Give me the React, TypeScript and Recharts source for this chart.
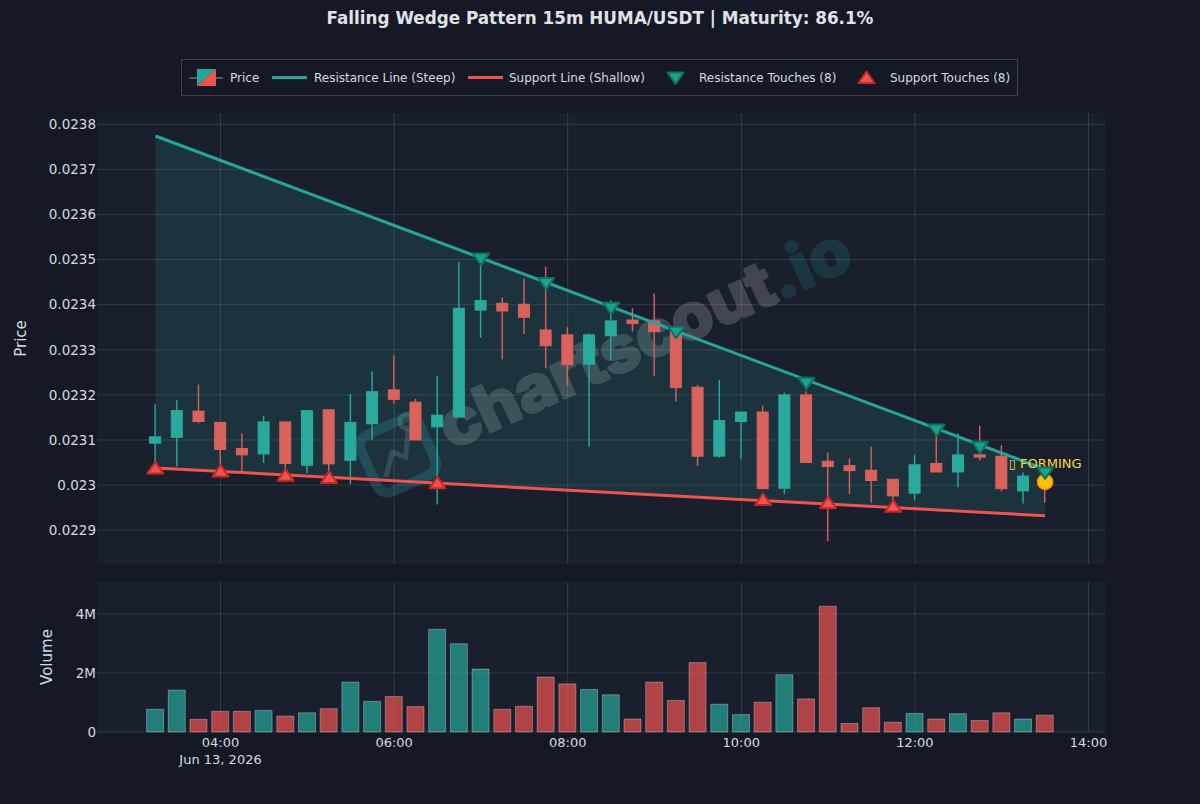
import { Area, Bar, CartesianGrid, Cell, ComposedChart, Line, Scatter, XAxis, YAxis } from 'recharts';

const candleTimes = [
  '03:15', '03:30', '03:45', '04:00', '04:15', '04:30', '04:45', '05:00', '05:15', '05:30', '05:45', '06:00', '06:15', '06:30',
  '06:45', '07:00', '07:15', '07:30', '07:45', '08:00', '08:15', '08:30', '08:45', '09:00', '09:15', '09:30', '09:45', '10:00',
  '10:15', '10:30', '10:45', '11:00', '11:15', '11:30', '11:45', '12:00', '12:15', '12:30', '12:45', '13:00', '13:15', '13:30',
];
const opens = [
  0.023093, 0.023106, 0.023164, 0.023139, 0.023081, 0.023069, 0.02314, 0.023044, 0.023167, 0.023055, 0.023136, 0.023211, 0.023184, 0.023129,
  0.023151, 0.023388, 0.023403, 0.023401, 0.023344, 0.023333, 0.023268, 0.023331, 0.023366, 0.023364, 0.02334, 0.023217, 0.023064, 0.023141,
  0.023162, 0.022993, 0.0232, 0.023053, 0.023043, 0.023033, 0.023013, 0.022982, 0.023048, 0.023029, 0.023067, 0.023064, 0.022987, 0.023016,
];
const closes = [
  0.023107, 0.023165, 0.023141, 0.023079, 0.023067, 0.02314, 0.023048, 0.023165, 0.023047, 0.023139, 0.023207, 0.02319, 0.0231, 0.023155,
  0.023392, 0.023409, 0.023386, 0.023372, 0.023309, 0.023267, 0.023333, 0.023364, 0.023358, 0.02334, 0.023216, 0.023064, 0.023143, 0.023162,
  0.022992, 0.0232, 0.02305, 0.023041, 0.023032, 0.02301, 0.022976, 0.023045, 0.023029, 0.023067, 0.023062, 0.022992, 0.02302, 0.022998,
];
const highs = [
  0.023179, 0.023188, 0.023223, 0.023139, 0.023115, 0.023154, 0.02314, 0.023165, 0.023167, 0.023202, 0.023252, 0.023288, 0.023191, 0.023242,
  0.023494, 0.023503, 0.023416, 0.023458, 0.023484, 0.02335, 0.023336, 0.023409, 0.023392, 0.023425, 0.023345, 0.023222, 0.023233, 0.023162,
  0.023176, 0.023205, 0.023208, 0.023072, 0.023059, 0.023085, 0.023013, 0.023067, 0.023122, 0.023115, 0.023132, 0.023088, 0.023028, 0.023024,
];
const lows = [
  0.02304, 0.023041, 0.023137, 0.023033, 0.023029, 0.023049, 0.023007, 0.023027, 0.023022, 0.023002, 0.0231, 0.023181, 0.0231, 0.022957,
  0.023151, 0.023327, 0.023279, 0.023335, 0.023259, 0.023221, 0.023085, 0.023277, 0.023341, 0.023242, 0.023186, 0.023043, 0.023061, 0.023057,
  0.022992, 0.02298, 0.02305, 0.022876, 0.02298, 0.022961, 0.02296, 0.022967, 0.023029, 0.022995, 0.023055, 0.022986, 0.022959, 0.022961,
];
const volumes = [
  0.77, 1.42, 0.43, 0.7, 0.7, 0.73, 0.54, 0.65, 0.79, 1.69, 1.04, 1.2, 0.86, 3.48,
  2.99, 2.13, 0.77, 0.87, 1.86, 1.63, 1.44, 1.26, 0.44, 1.69, 1.07, 2.35, 0.94, 0.59,
  1.01, 1.94, 1.12, 4.26, 0.29, 0.82, 0.33, 0.63, 0.44, 0.62, 0.39, 0.65, 0.44, 0.57,
];

const resistanceEnds = [0.023774, 0.023035];
const supportEnds = [0.023038, 0.022932];
const resistanceTouchTimes = ['07:00', '07:45', '08:30', '09:15', '10:45', '12:15', '12:45', '13:30'];
const resistanceTouchPrices = [0.023501, 0.023447, 0.023392, 0.023339, 0.023226, 0.023122, 0.023084, 0.023027];
const supportTouchTimes = ['03:15', '04:00', '04:45', '05:15', '06:30', '10:15', '11:00', '11:45'];
const supportTouchPrices = [0.023038, 0.023031, 0.023022, 0.023017, 0.023005, 0.022968, 0.022961, 0.022953];
const formingTime = '13:30';
const formingPrice = 0.023007;

const priceTicks = [0.0229, 0.023, 0.0231, 0.0232, 0.0233, 0.0234, 0.0235, 0.0236, 0.0237, 0.0238];
const volumeTicks = [0, 2, 4];
const timeTicks = ['04:00', '06:00', '08:00', '10:00', '12:00', '14:00'];

const PAGE = '#141925';
const PLOT = '#1a1f2e';
const GRID = 'rgba(255,255,255,0.12)';
const TEXT = '#d6d9e0';
const GREEN = '#26a69a';
const RED = '#ef5350';
const CANDLE_GREEN = '#2aaa9c';
const CANDLE_RED = '#d9625c';
const FONT = '"DejaVu Sans", sans-serif';

const minutes = (s: string) => {
  const [h, m] = s.split(':').map(Number);
  return h * 60 + m;
};

const isUp = (i: number) => closes[i] >= opens[i];

const lastIdx = candleTimes.length - 1;
const priceRows = candleTimes.map((t, i) => {
  const edge = i === 0 ? 0 : i === lastIdx ? 1 : -1;
  return {
    t: minutes(t),
    range: [lows[i], highs[i]],
    open: opens[i],
    close: closes[i],
    resistance: edge >= 0 ? resistanceEnds[edge] : null,
    support: edge >= 0 ? supportEnds[edge] : null,
    wedge: edge >= 0 ? [supportEnds[edge], resistanceEnds[edge]] : null,
  };
});
const volumeRows = candleTimes.map((t, i) => ({ t: minutes(t), volume: volumes[i] }));
const resistanceTouches = resistanceTouchTimes.map((t, i) => ({ t: minutes(t), price: resistanceTouchPrices[i] }));
const supportTouches = supportTouchTimes.map((t, i) => ({ t: minutes(t), price: supportTouchPrices[i] }));
const formingPoint = [{ t: minutes(formingTime), price: formingPrice }];

const xDomain: [number, number] = [154.6, 851.4];
const xTicks = timeTicks.map(minutes);

// wick + body, drawn from the bar's low-high rectangle
function Candle(props: any) {
  const { x, y, width, height, payload } = props;
  const high = payload.range[1];
  const low = payload.range[0];
  const perUnit = height / (high - low);
  const top = y + (high - Math.max(payload.open, payload.close)) * perUnit;
  const bottom = y + (high - Math.min(payload.open, payload.close)) * perUnit;
  const color = payload.close >= payload.open ? CANDLE_GREEN : CANDLE_RED;
  const mid = x + width / 2;
  return (
    <g>
      <line x1={mid} x2={mid} y1={y} y2={y + height} stroke={color} strokeWidth={1.4} />
      <rect x={x} y={top} width={width} height={Math.max(bottom - top, 1)} fill={color} stroke={color} strokeWidth={1} />
    </g>
  );
}

function DownMark({ cx, cy }: any) {
  return (
    <path
      d={`M${cx - 8},${cy - 5.5} L${cx + 8},${cy - 5.5} L${cx},${cy + 6} Z`}
      fill="#1fa08c"
      stroke="#0b7565"
      strokeWidth={2}
      strokeLinejoin="round"
    />
  );
}

function UpMark({ cx, cy }: any) {
  return (
    <path
      d={`M${cx},${cy - 6} L${cx + 8},${cy + 5.5} L${cx - 8},${cy + 5.5} Z`}
      fill="#ef5350"
      stroke="#c62828"
      strokeWidth={2}
      strokeLinejoin="round"
    />
  );
}

function FormingMark({ cx, cy }: any) {
  return (
    <g>
      <circle cx={cx} cy={cy} r={7.5} fill="#ffc107" stroke="#ff9800" strokeWidth={1.5} />
      <text x={cx} y={cy - 14} textAnchor="middle" fontSize={13} fontFamily={FONT} fill="#ffd92e">
        ▯ FORMING
      </text>
    </g>
  );
}

function TimeTick({ x, y, payload }: any) {
  const first = payload.value === minutes('04:00');
  const label = timeTicks[xTicks.indexOf(payload.value)];
  return (
    <text x={x} y={y} textAnchor="middle" fontSize={13} fontFamily={FONT} fill={TEXT}>
      <tspan x={x} dy={7}>{label}</tspan>
      {first ? <tspan x={x} dy={17}>Jun 13, 2026</tspan> : null}
    </text>
  );
}

function Watermark() {
  return (
    <svg width={1200} height={804} style={{ position: 'absolute', left: 0, top: 0 }}>
      <g transform="rotate(-24.4 398 455)" fill="none">
        <rect x={366} y={424} width={64} height={62} rx={12} stroke="#2f9fb5" strokeOpacity={0.25} strokeWidth={10} />
        <path d="M378 470 L394 450 L404 460 L418 436" stroke="#ffffff" strokeOpacity={0.14} strokeWidth={5} />
        <circle cx={420} cy={428} r={7} stroke="#ffffff" strokeOpacity={0.14} strokeWidth={5} />
      </g>
      <g opacity={0.17}>
        <text
          transform="translate(451 450) rotate(-24.4)"
          fontFamily='Inter, Roboto, sans-serif'
          fontWeight={800}
          fontSize={64}
          strokeWidth={2.5}
          strokeLinejoin="round"
          textLength={445}
          lengthAdjust="spacingAndGlyphs"
        >
          <tspan fill="#ffffff" stroke="#ffffff">chartscout</tspan>
          <tspan fill={GREEN} stroke={GREEN}>.io</tspan>
        </text>
      </g>
    </svg>
  );
}

function LegendBox() {
  const label = (left: number, text: string) => (
    <span style={{ position: 'absolute', left, top: 11, whiteSpace: 'nowrap' }}>{text}</span>
  );
  return (
    <div
      style={{
        position: 'absolute', left: 181, top: 59, width: 835, height: 35,
        border: '1px solid #3a404e', fontFamily: FONT, fontSize: 12, color: TEXT,
      }}
    >
      <svg width={835} height={35} style={{ position: 'absolute', left: 0, top: 0 }}>
        <line x1={7} x2={41} y1={18} y2={18} stroke="#8a9a9a" strokeWidth={1} />
        <path d="M15 9 H34 L15 26 Z" fill={GREEN} />
        <path d="M34 9 V26 H15 Z" fill={RED} />
        <line x1={90} x2={125} y1={17.5} y2={17.5} stroke={GREEN} strokeWidth={3} />
        <line x1={286} x2={321} y1={17.5} y2={17.5} stroke={RED} strokeWidth={3} />
        <path d="M485.5 12.5 H501.5 L493.5 24 Z" fill="#1fa08c" stroke="#0b7565" strokeWidth={2} strokeLinejoin="round" />
        <path d="M684.5 11.5 L692.5 23 H676.5 Z" fill="#ef5350" stroke="#c62828" strokeWidth={2} strokeLinejoin="round" />
      </svg>
      {label(48, 'Price')}
      {label(132, 'Resistance Line (Steep)')}
      {label(327, 'Support Line (Shallow)')}
      {label(517, 'Resistance Touches (8)')}
      {label(708, 'Support Touches (8)')}
    </div>
  );
}

export default function App() {
  return (
    <div style={{ position: 'fixed', left: 0, top: 0, width: 1200, height: 804, background: PAGE, overflow: 'hidden' }}>
      <div
        style={{
          position: 'absolute', left: 0, top: 8, width: 1200, textAlign: 'center',
          fontFamily: FONT, fontWeight: 700, fontSize: 16.8, color: '#e0e2e8',
        }}
      >
        Falling Wedge Pattern 15m HUMA/USDT | Maturity: 86.1%
      </div>
      <LegendBox />

      <div style={{ position: 'absolute', left: 97, top: 113, width: 1008, height: 451, background: PLOT }} />
      <div style={{ position: 'absolute', left: 97, top: 582, width: 1008, height: 150, background: PLOT }} />
      <Watermark />

      <div style={{ position: 'absolute', left: 0, top: 0 }}>
        <ComposedChart width={1200} height={570} data={priceRows} margin={{ top: 113, right: 95, bottom: 6, left: 0 }}>
          <CartesianGrid stroke={GRID} syncWithTicks />
          <XAxis dataKey="t" type="number" domain={xDomain} ticks={xTicks} hide allowDataOverflow />
          <YAxis
            type="number"
            width={97}
            domain={[0.022825, 0.023825]}
            ticks={priceTicks}
            axisLine={false}
            tickLine={false}
            tickSize={0}
            tickMargin={1}
            tick={{ fontSize: 13.5, fontFamily: FONT, fill: TEXT }}
            tickFormatter={(v: number) => String(Number(v.toFixed(4)))}
            label={{ value: 'Price', angle: -90, position: 'insideLeft', dx: 16, style: { fontSize: 15, fontFamily: FONT, fill: TEXT, textAnchor: 'middle' } }}
          />
          <Area dataKey="wedge" type="linear" stroke="none" fill={GREEN} fillOpacity={0.15} connectNulls isAnimationActive={false} />
          <Bar dataKey="range" barSize={11} shape={Candle} isAnimationActive={false} />
          <Line dataKey="resistance" type="linear" stroke={GREEN} strokeWidth={3} dot={false} connectNulls isAnimationActive={false} />
          <Line dataKey="support" type="linear" stroke={RED} strokeWidth={3} dot={false} connectNulls isAnimationActive={false} />
          <Scatter data={formingPoint} dataKey="price" shape={FormingMark} isAnimationActive={false} />
          <Scatter data={resistanceTouches} dataKey="price" shape={DownMark} isAnimationActive={false} />
          <Scatter data={supportTouches} dataKey="price" shape={UpMark} isAnimationActive={false} />
        </ComposedChart>
      </div>

      <div style={{ position: 'absolute', left: 0, top: 582 }}>
        <ComposedChart width={1200} height={222} data={volumeRows} margin={{ top: 0, right: 95, bottom: 0, left: 0 }}>
          <CartesianGrid stroke={GRID} syncWithTicks />
          <XAxis
            dataKey="t"
            type="number"
            domain={xDomain}
            ticks={xTicks}
            height={72}
            axisLine={false}
            tickLine={false}
            tick={TimeTick}
            interval={0}
            allowDataOverflow
          />
          <YAxis
            type="number"
            width={97}
            domain={[0, 5.08]}
            ticks={volumeTicks}
            axisLine={false}
            tickLine={false}
            tickSize={0}
            tickMargin={1}
            tick={{ fontSize: 13.5, fontFamily: FONT, fill: TEXT }}
            tickFormatter={(v: number) => (v === 0 ? '0' : `${v}M`)}
            label={{ value: 'Volume', angle: -90, position: 'insideLeft', dx: 42, style: { fontSize: 15, fontFamily: FONT, fill: TEXT, textAnchor: 'middle' } }}
          />
          <Bar dataKey="volume" barSize={17} fillOpacity={0.7} stroke="rgba(255,255,255,0.3)" strokeWidth={1} isAnimationActive={false}>
            {volumeRows.map((_, i) => (
              <Cell key={i} fill={isUp(i) ? GREEN : RED} />
            ))}
          </Bar>
        </ComposedChart>
      </div>
    </div>
  );
}
